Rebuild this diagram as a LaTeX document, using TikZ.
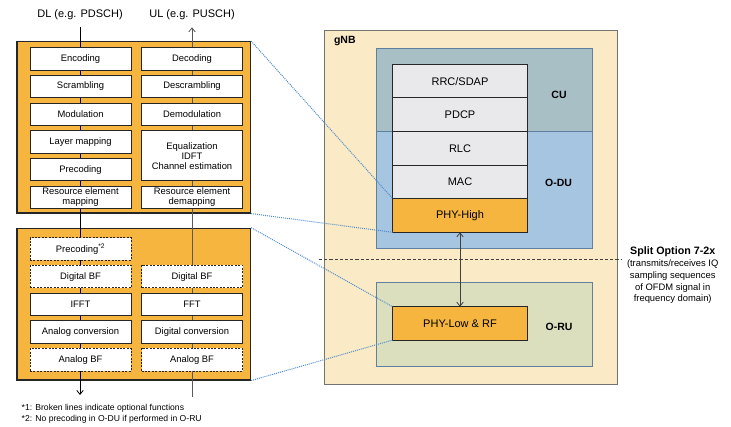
\documentclass[tikz,border=0pt]{standalone}
\usepackage{fontspec}
\setmainfont{Liberation Sans}
\usetikzlibrary{arrows.meta, positioning}
\definecolor{phyorange}{RGB}{245,181,62}
\definecolor{gnbfill}{RGB}{250,234,197}
\definecolor{cufill}{RGB}{168,191,198}
\definecolor{dufill}{RGB}{166,197,224}
\definecolor{rufill}{RGB}{220,223,190}
\definecolor{layerfill}{RGB}{233,233,235}
\definecolor{unitline}{RGB}{95,128,160}
\definecolor{linkblue}{RGB}{80,140,205}

\begin{document}
\begin{tikzpicture}[x=1pt, y=-1pt, >={Straight Barb[length=4pt, width=6.5pt]},
  fnbox/.style={draw=black!85, fill=white, line width=0.8pt, outer sep=0pt, minimum width=101pt, minimum height=22.5pt, inner sep=1pt, align=center, font=\fontsize{9.4}{10}\selectfont},
  optbox/.style={fnbox, dash pattern=on 2pt off 1.4pt},
  panel/.style={draw=black!85, fill=phyorange, line width=1.2pt, minimum width=233.5pt, inner sep=0pt},
  layer/.style={draw=black!85, fill=layerfill, line width=0.9pt, outer sep=0pt, minimum width=134.6pt, minimum height=33.6pt, font=\fontsize{11}{13}\selectfont},
  unit/.style={draw=unitline, line width=0.9pt, minimum width=216pt, anchor=north west, inner sep=0pt},
  unitname/.style={font=\fontsize{10.5}{12}\selectfont\bfseries},
  lbl/.style={inner xsep=0pt, inner ysep=7pt, font=\fontsize{11}{13}\selectfont},
  note/.style={anchor=west, inner sep=0pt, font=\fontsize{8.6}{10}\selectfont},
  link/.style={draw=linkblue, line width=1pt, dash pattern=on 1pt off 1pt},
  flow/.style={line width=0.8pt, ->}
]
  \useasboundingbox (0,0) rectangle (731,427);

  % gNB with its units
  \node[draw=black!55, fill=gnbfill, line width=1.3pt, minimum width=293pt, minimum height=354pt, anchor=north west, inner sep=0pt] (gnb) at (324,30) {};
  \node[unitname, anchor=west] (gnbname) at (330.5,41) {gNB};
  \node[unit, fill=cufill, minimum height=82.7pt] (cu) at (375.7,48.3) {};
  \node[unit, fill=dufill, minimum height=117.3pt] (odu) at (375.7,131) {};
  \node[unit, fill=rufill, minimum height=84pt] (oru) at (375.7,281.7) {};
  \node[unitname] (cuname) at (559,95) {CU};
  \node[unitname] (oduname) at (558.5,183.3) {O-DU};
  \node[unitname] (oruname) at (559,326.7) {O-RU};

  \node[layer] (rrc) at (460,81.1) {RRC/SDAP};
  \node[layer, below=0pt of rrc] (pdcp) {PDCP};
  \node[layer, below=0pt of pdcp] (rlc) {RLC};
  \node[layer, below=0pt of rlc] (mac) {MAC};
  \node[layer, below=0pt of mac, fill=phyorange] (phyhigh) {PHY-High};
  \node[layer, fill=phyorange, minimum height=33.3pt] (phylow) at (460,323.4) {PHY-Low \& RF};
  \draw[line width=0.8pt, black!75, <->] (phyhigh) -- (phylow);

  % split point
  \coordinate (splitl) at (319,260);
  \coordinate (splitr) at (622,260);
  \draw[black!75, line width=1pt, dash pattern=on 3.2pt off 2pt] (splitl) -- (splitr);
  \node[anchor=north, align=center, inner sep=0pt, font=\fontsize{9.4}{11.7}\selectfont] (splitlbl) at (672.7,247) {{\fontsize{10.7}{12}\selectfont\bfseries Split Option 7-2x}\\(transmits/receives IQ\\sampling sequences\\of OFDM signal in\\frequency domain)};

  % PHY function chains
  \node[panel, minimum height=171.3pt] (highfns) at (133.75,127.35) {};
  \node[panel, minimum height=151.7pt] (lowfns) at (133.75,304.15) {};

  \node[lbl] (dl) at (80,15) {DL (e.g. PDSCH)};
  \node[lbl] (ul) at (192,15) {UL (e.g. PUSCH)};
  \coordinate (dlend) at (80,395);
  \coordinate (ulstart) at (192,397);
  \draw[flow] (dl) -- (dlend);
  \draw[flow, black!65] (ulstart) -- (ul);

  \node[fnbox] (enc) at (80.5,58.8) {Encoding};
  \node[fnbox, below=5.2pt of enc] (scr) {Scrambling};
  \node[fnbox, below=5.2pt of scr] (mod) {Modulation};
  \node[fnbox, below=5.2pt of mod] (laymap) {Layer mapping};
  \node[fnbox, below=5.2pt of laymap] (prec) {Precoding};
  \node[fnbox, below=5.2pt of prec] (remap) {Resource element\\mapping};

  \node[fnbox] (dec) at (192,58.8) {Decoding};
  \node[fnbox, below=5.2pt of dec] (descr) {Descrambling};
  \node[fnbox, below=5.2pt of descr] (demod) {Demodulation};
  \node[fnbox, below=5.2pt of demod, minimum height=50.2pt] (eq) {Equalization\\IDFT\\Channel estimation};
  \node[fnbox, below=5.2pt of eq] (redemap) {Resource element\\demapping};

  \node[optbox] (rprec) at (80.5,248.9) {Precoding\textsuperscript{*2}};
  \node[optbox, below=5.2pt of rprec] (dlbf) {Digital BF};
  \node[fnbox, below=5.2pt of dlbf] (ifft) {IFFT};
  \node[fnbox, below=5.2pt of ifft] (dac) {Analog conversion};
  \node[optbox, below=5.2pt of dac] (dlabf) {Analog BF};

  \node[optbox] (ulbf) at (192,276.6) {Digital BF};
  \node[fnbox, below=5.2pt of ulbf] (fft) {FFT};
  \node[fnbox, below=5.2pt of fft] (adc) {Digital conversion};
  \node[optbox, below=5.2pt of adc] (ulabf) {Analog BF};

  \node[note] (note1) at (21.5,408) {*1: Broken lines indicate optional functions};
  \node[note] (note2) at (21.5,419.5) {*2: No precoding in O-DU if performed in O-RU};

  % zoom lines
  \draw[link] (highfns.north east) -- (phyhigh.north west);
  \draw[link] (highfns.south east) -- (phyhigh.south west);
  \draw[link] (lowfns.north east) -- (phylow.north west);
  \draw[link] (lowfns.south east) -- (phylow.south west);
\end{tikzpicture}
\end{document}
